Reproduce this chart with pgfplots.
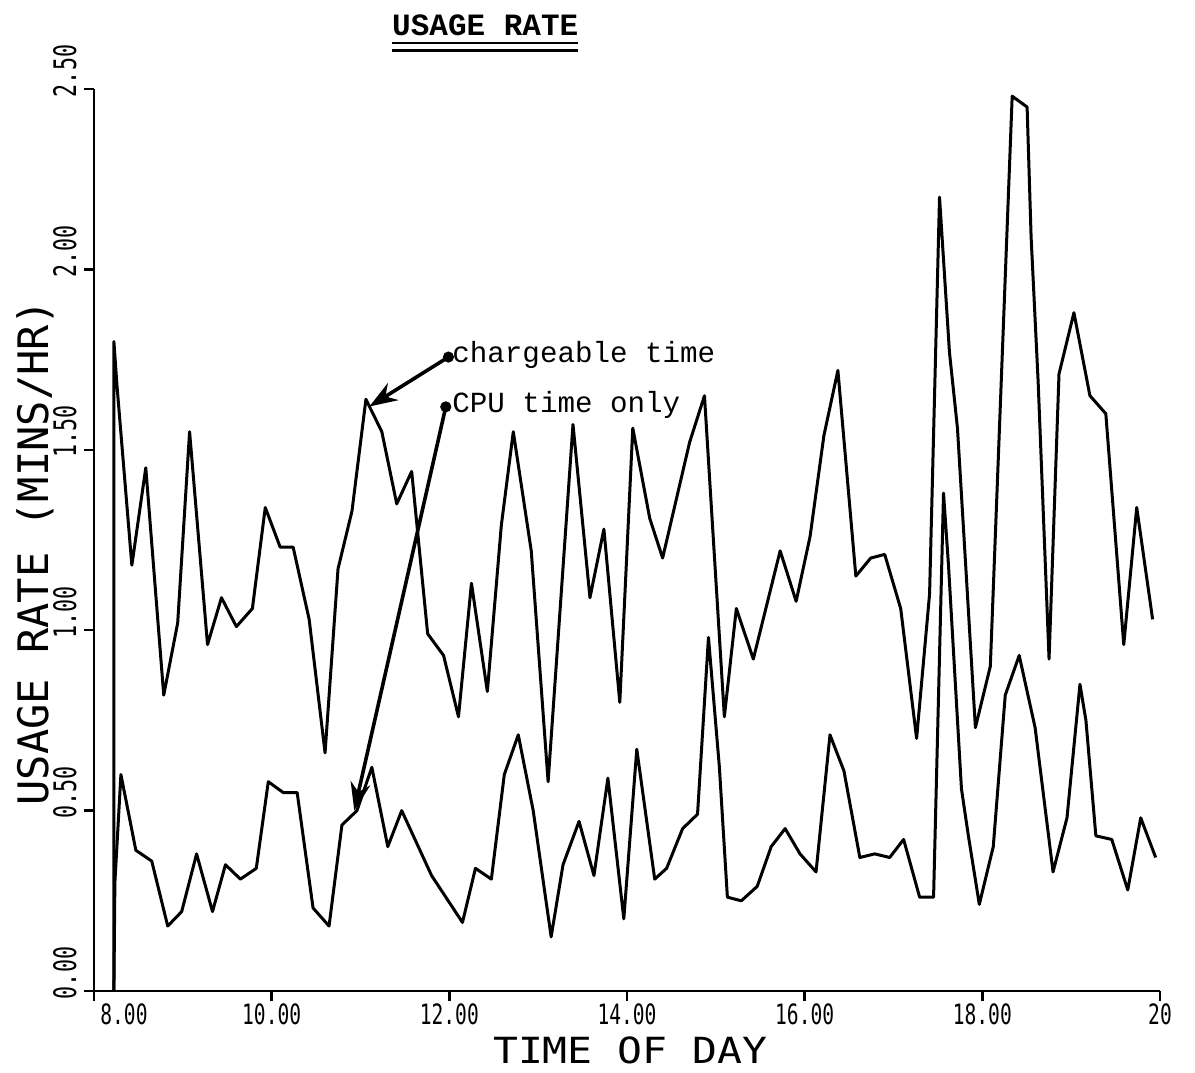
\documentclass[border=0pt]{standalone}
\usepackage{pgfplots}
\pgfplotsset{compat=1.18}
\usepackage{fontspec}
\usetikzlibrary{arrows.meta}
\newfontfamily\plotfont{DejaVu Sans Mono}
\newfontfamily\tickfont[FakeStretch=0.7]{DejaVu Sans Mono}
\newfontfamily\xlabfont[FakeStretch=1.15]{DejaVu Sans Mono}
\newfontfamily\typew{Liberation Mono}
\begin{document}
\begin{tikzpicture}
\begin{axis}[
  name=ax,
  scale only axis,
  width=533pt, height=451pt,
  xmin=8, xmax=20, ymin=0, ymax=2.5,
  enlargelimits=false,
  axis x line=bottom, axis y line=left,
  axis line style={-, line width=1.3pt},
  tick align=outside,
  major tick length=5pt,
  tick style={line width=1.2pt, black},
  xtick={8,10,12,14,16,18,20},
  xticklabels={\hspace*{30pt}8.00,10.00,12.00,14.00,16.00,18.00,20},
  ytick={0,0.5,1,1.5,2,2.5},
  yticklabels={0.00,0.50,1.00,1.50,2.00,2.50},
  xticklabel style={font=\tickfont\fontsize{14}{14}\selectfont, anchor=north, inner sep=0pt, yshift=-1pt},
  yticklabel style={font=\tickfont\fontsize{15.5}{15.5}\selectfont, xshift=-3.5pt, yshift=9pt, rotate=90, anchor=south, inner sep=0pt},
  xlabel={TIME OF DAY},
  xlabel style={font=\xlabfont\fontsize{18}{18}\selectfont, at={(axis description cs:0.503,-0.066)}, anchor=center},
  ylabel={USAGE RATE (MINS/HR)},
  ylabel style={font=\plotfont\fontsize{21}{21}\selectfont, at={(axis description cs:-0.055,0.486)}, anchor=center},
  clip=false,
]
% chargeable time
\addplot[black, line width=1.5pt, line join=round] coordinates {
(8.224,0) (8.224,1.80) (8.258,1.68) (8.426,1.18) (8.583,1.45) (8.785,0.82)
(8.942,1.02) (9.076,1.55) (9.278,0.96) (9.435,1.09) (9.603,1.01) (9.783,1.06)
(9.928,1.34) (10.096,1.23) (10.242,1.23) (10.422,1.03) (10.601,0.66) (10.747,1.17)
(10.904,1.33) (11.061,1.64) (11.240,1.55) (11.408,1.35) (11.576,1.44) (11.756,0.99)
(11.935,0.93) (12.103,0.76) (12.249,1.13) (12.428,0.83) (12.585,1.29) (12.720,1.55)
(12.922,1.22) (13.112,0.58) (13.392,1.57) (13.583,1.09) (13.740,1.28) (13.919,0.80)
(14.065,1.56) (14.256,1.31) (14.401,1.20) (14.704,1.52) (14.872,1.65) (15.096,0.76)
(15.231,1.06) (15.422,0.92) (15.724,1.22) (15.904,1.08) (16.061,1.26) (16.217,1.54)
(16.374,1.72) (16.576,1.15) (16.744,1.20) (16.901,1.21) (17.081,1.06) (17.260,0.70)
(17.406,1.10) (17.518,2.20) (17.630,1.77) (17.720,1.56) (17.922,0.73) (18.090,0.90)
(18.336,2.48) (18.504,2.45) (18.549,2.09) (18.628,1.69) (18.751,0.92) (18.863,1.71)
(19.031,1.88) (19.211,1.65) (19.390,1.60) (19.592,0.96) (19.738,1.34) (19.917,1.03)
};
% CPU time only
\addplot[black, line width=1.5pt, line join=round] coordinates {
(8.224,0) (8.235,0.30) (8.303,0.60) (8.471,0.39) (8.650,0.36) (8.830,0.18)
(8.987,0.22) (9.155,0.38) (9.334,0.22) (9.480,0.35) (9.648,0.31) (9.827,0.34)
(9.962,0.58) (10.130,0.55) (10.287,0.55) (10.466,0.23) (10.646,0.18) (10.791,0.46)
(10.960,0.50) (11.128,0.62) (11.307,0.40) (11.464,0.50) (11.800,0.32) (12.148,0.19)
(12.294,0.34) (12.473,0.31) (12.619,0.60) (12.776,0.71) (12.944,0.50) (13.146,0.15)
(13.280,0.35) (13.460,0.47) (13.628,0.32) (13.785,0.59) (13.964,0.20) (14.110,0.67)
(14.312,0.31) (14.446,0.34) (14.626,0.45) (14.794,0.49) (14.917,0.98) (15.040,0.62)
(15.130,0.26) (15.287,0.25) (15.466,0.29) (15.623,0.40) (15.780,0.45) (15.948,0.38)
(16.128,0.33) (16.285,0.71) (16.442,0.61) (16.621,0.37) (16.789,0.38) (16.957,0.37)
(17.114,0.42) (17.294,0.26) (17.451,0.26) (17.563,1.38) (17.619,1.18) (17.765,0.56)
(17.843,0.43) (17.966,0.24) (18.123,0.40) (18.258,0.82) (18.415,0.93) (18.594,0.73)
(18.796,0.33) (18.953,0.48) (19.099,0.85) (19.166,0.75) (19.278,0.43) (19.457,0.42)
(19.637,0.28) (19.783,0.48) (19.951,0.37)
};
% annotations
\fill (axis cs:11.99,1.757) circle (2.8pt);
\fill (axis cs:11.96,1.619) circle (2.8pt);
\draw[line width=1.8pt, -{Stealth[length=14pt,width=10pt]}] (axis cs:11.99,1.757) -- (axis cs:11.10,1.62);
\draw[line width=1.8pt, -{Stealth[length=14pt,width=10pt]}] (axis cs:11.96,1.619) -- (axis cs:10.93,0.50);
\node[anchor=west, inner sep=0pt, font=\typew\fontsize{14.6}{14.6}\selectfont] at (axis cs:12.03,1.763) {chargeable time};
\node[anchor=west, inner sep=0pt, font=\typew\fontsize{14.6}{14.6}\selectfont] at (axis cs:12.03,1.624) {CPU time only};
% title
\node[anchor=center, inner sep=0pt, font=\typew\bfseries\fontsize{15.5}{15.5}\selectfont] at (axis description cs:0.367,1.071) {USAGE RATE};
\draw[line width=1.2pt] (axis description cs:0.2796,1.051) -- (axis description cs:0.454,1.051);
\draw[line width=1.4pt] (axis description cs:0.2796,1.043) -- (axis description cs:0.454,1.043);
\end{axis}
\pgfresetboundingbox
\path[use as bounding box] ([xshift=-47pt,yshift=-41pt]ax.south west) rectangle ([xshift=17.5pt,yshift=44.5pt]ax.north east);
\end{tikzpicture}
\end{document}
